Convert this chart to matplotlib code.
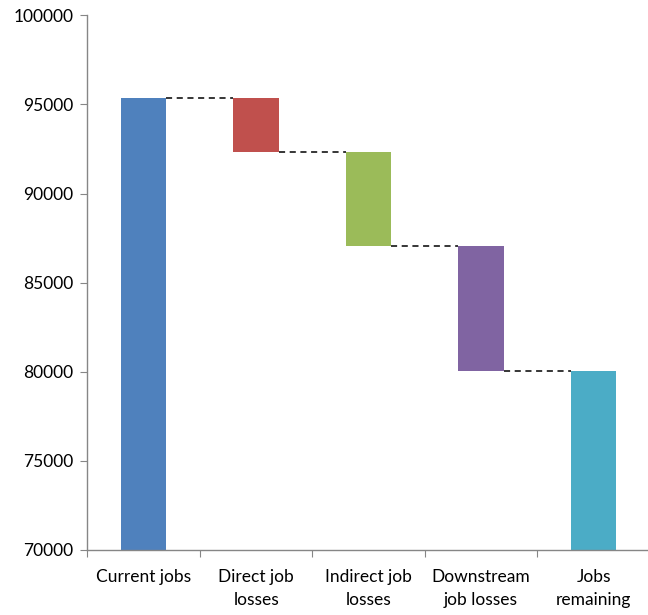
import matplotlib
matplotlib.use("Agg")
import matplotlib.pyplot as plt

plt.rcParams['font.family'] = ['Lato', 'DejaVu Sans']

# waterfall data
categories = ["Current jobs", "Direct job\nlosses", "Indirect job\nlosses",
              "Downstream\njob losses", "Jobs\nremaining"]
current_jobs = 95350
losses = [3000, 5270, 7030]
colors = ["#4F81BD", "#C0504D", "#9BBB59", "#8064A2", "#4BACC6"]

remaining = current_jobs - sum(losses)

# build bottoms / heights for the floating bars
bottoms = [0]
heights = [current_jobs]
level = current_jobs
for loss in losses:
    level -= loss
    bottoms.append(level)
    heights.append(loss)
bottoms.append(0)
heights.append(remaining)

fig = plt.figure(figsize=(6.48, 6.15), dpi=100)
ax = fig.add_axes([0.1349, 0.1057, 0.868, 0.8694])

width = 0.406
x = list(range(len(categories)))
ax.bar(x, heights, bottom=bottoms, width=width, color=colors, zorder=2)

# dashed connectors between bars
levels = [current_jobs]
level = current_jobs
for loss in losses:
    level -= loss
    levels.append(level)
for i, lv in enumerate(levels):
    ax.plot([i + width / 2, i + 1 - width / 2], [lv, lv], color="black",
            linestyle=(0, (4, 3)), linewidth=1.1, zorder=1)

ax.set_ylim(70000, 100000)
ax.set_yticks(range(70000, 100001, 5000))
ax.set_xlim(-0.5, 4.5)
ax.set_xticks([i - 0.5 for i in range(len(categories) + 1)], minor=False)
ax.set_xticklabels([])
ax.set_xticks(x, minor=True)
ax.set_xticklabels(categories, minor=True, linespacing=1.5)
ax.tick_params(axis='x', which='minor', length=0, pad=14, labelsize=12.5)
ax.tick_params(axis='x', which='major', length=5, color="#868686")
ax.tick_params(axis='y', length=5, color="#868686", labelsize=12.5, pad=5)

for s in ["top", "right"]:
    ax.spines[s].set_visible(False)
for s in ["left", "bottom"]:
    ax.spines[s].set_color("#868686")
    ax.spines[s].set_linewidth(1)

fig.savefig("out.png", dpi=100)
